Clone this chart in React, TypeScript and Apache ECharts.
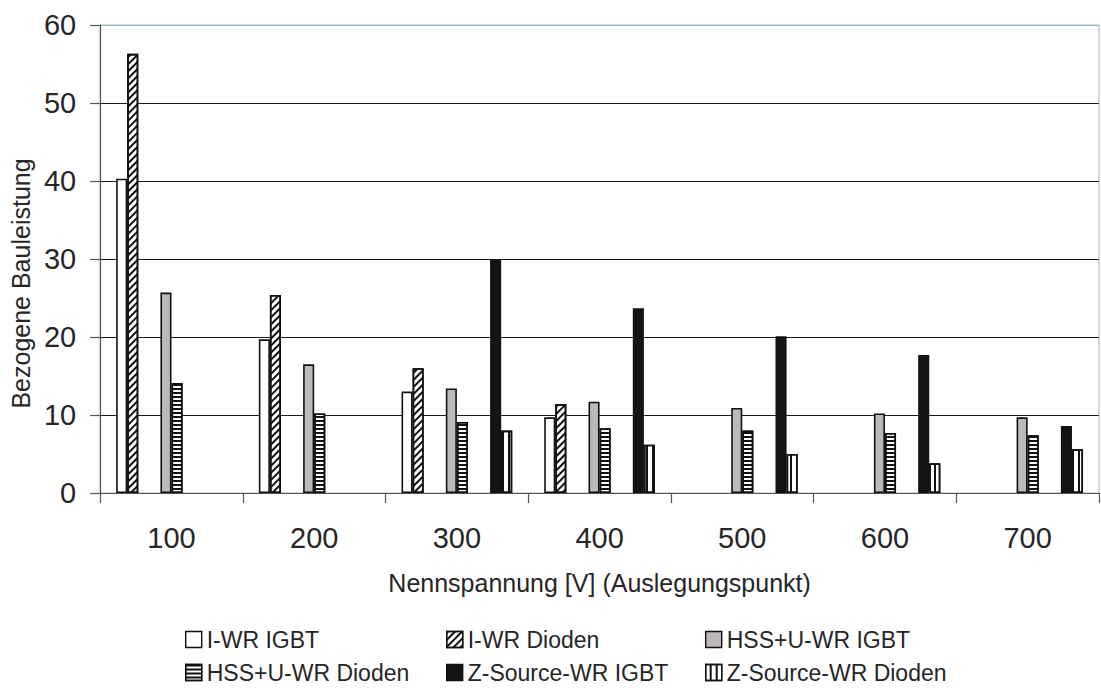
import React, { useEffect, useRef } from "react";
import * as echarts from "echarts";

const categories = ["100", "200", "300", "400", "500", "600", "700"];
const seriesNames = [
  "I-WR IGBT",
  "I-WR Dioden",
  "HSS+U-WR IGBT",
  "HSS+U-WR Dioden",
  "Z-Source-WR IGBT",
  "Z-Source-WR Dioden",
];
const iwrIgbt = [40.3, 19.7, 13.0, 9.7, null, null, null];
const iwrDioden = [56.3, 25.4, 16.0, 11.4, null, null, null];
const hssIgbt = [25.7, 16.5, 13.4, 11.7, 10.9, 10.2, 9.7];
const hssDioden = [14.1, 10.2, 9.1, 8.3, 8.0, 7.7, 7.4];
const zIgbt = [null, null, 30.0, 23.7, 20.1, 17.7, 8.6];
const zDioden = [null, null, 8.0, 6.2, 5.0, 3.8, 5.6];
const emptySlot = categories.map(() => null);

const yMin = 0;
const yMax = 60;
const yStep = 10;

const FONT = "'Liberation Sans', Arial, sans-serif";
const TEXT = "#262626";

export default function App() {
  const ref = useRef<HTMLDivElement>(null);

  useEffect(() => {
    if (!ref.current) return;
    const chart = echarts.init(ref.current, null, { renderer: "svg" });

    const border = { borderColor: "#111", borderWidth: 1.6 };
    const hatch = {
      symbol: "rect",
      symbolSize: 1,
      color: "#111",
      dashArrayX: [1, 0],
      dashArrayY: [2, 3],
      rotation: -Math.PI / 4,
    };
    const hStripes = {
      symbol: "rect",
      symbolSize: 1,
      color: "#111",
      dashArrayX: [1, 0],
      dashArrayY: [2, 2],
      rotation: 0,
    };
    const vStripes = {
      symbol: "rect",
      symbolSize: 1,
      color: "#111",
      dashArrayX: [1, 0],
      dashArrayY: [2, 4],
      rotation: Math.PI / 2,
    };

    const bar = (name: string, data: (number | null)[], itemStyle: any) => ({
      type: "bar",
      name,
      data,
      barGap: "0%",
      barCategoryGap: "22.4%",
      itemStyle,
      emphasis: { disabled: true },
    });

    const series = [
      bar(seriesNames[0], iwrIgbt, { color: "#ffffff", ...border }),
      bar(seriesNames[1], iwrDioden, { color: "#ffffff", ...border, decal: hatch }),
      bar("_gap1", emptySlot, { color: "#fff" }),
      bar("_gap2", emptySlot, { color: "#fff" }),
      bar(seriesNames[2], hssIgbt, { color: "#bdb9b9", ...border }),
      bar(seriesNames[3], hssDioden, { color: "#ffffff", ...border, decal: hStripes }),
      bar("_gap3", emptySlot, { color: "#fff" }),
      bar("_gap4", emptySlot, { color: "#fff" }),
      bar(seriesNames[4], zIgbt, { color: "#141414", ...border }),
      bar(seriesNames[5], zDioden, { color: "#ffffff", ...border, decal: vStripes }),
    ];

    const legendBase = {
      orient: "vertical",
      top: 628,
      padding: 0,
      itemGap: 10,
      itemWidth: 16,
      itemHeight: 16,
      icon: "rect",
      selectedMode: false,
      itemStyle: { borderColor: "#111", borderWidth: 1.4 },
      textStyle: { fontFamily: FONT, fontSize: 23, color: TEXT, padding: [0, 0, 0, 0] },
    };

    chart.setOption({
      animation: false,
      backgroundColor: "#ffffff",
      grid: {
        left: 97,
        right: 2,
        top: 25,
        bottom: 195,
        show: true,
        borderColor: "#a3b6bf",
        borderWidth: 1,
      },
      legend: [
        { ...legendBase, left: 185, data: [seriesNames[0], seriesNames[3]] },
        { ...legendBase, left: 446, data: [seriesNames[1], seriesNames[4]] },
        { ...legendBase, left: 705, data: [seriesNames[2], seriesNames[5]] },
      ],
      xAxis: {
        type: "category",
        data: categories,
        name: "Nennspannung [V] (Auslegungspunkt)",
        nameLocation: "middle",
        nameGap: 77,
        nameTextStyle: { fontFamily: FONT, fontSize: 25, color: TEXT },
        axisLine: { show: true, lineStyle: { color: "#555", width: 1.2 } },
        axisTick: { show: true, length: 10, lineStyle: { color: "#555", width: 1.2 } },
        axisLabel: { fontFamily: FONT, fontSize: 29, color: TEXT, margin: 30 },
        splitLine: { show: false },
      },
      yAxis: {
        type: "value",
        min: yMin,
        max: yMax,
        interval: yStep,
        name: "Bezogene Bauleistung",
        nameLocation: "middle",
        nameGap: 62,
        nameRotate: 90,
        nameTextStyle: {
          fontFamily: FONT,
          fontSize: 25,
          color: TEXT,
          padding: [0, 49, 0, 0],
        },
        axisLine: { show: true, lineStyle: { color: "#555", width: 1.2 } },
        axisTick: { show: true, length: 10, lineStyle: { color: "#555", width: 1.2 } },
        axisLabel: { fontFamily: FONT, fontSize: 29, color: TEXT, margin: 24 },
        splitLine: {
          show: true,
          lineStyle: {
            color: ["#1c1c1c", "#1c1c1c", "#1c1c1c", "#1c1c1c", "#1c1c1c", "#1c1c1c", "#a3b6bf"],
            width: 1,
          },
        },
      },
      series,
    });

    return () => chart.dispose();
  }, []);

  return (
    <div
      ref={ref}
      style={{ position: "absolute", left: 0, top: 0, width: 1101, height: 688 }}
    />
  );
}
